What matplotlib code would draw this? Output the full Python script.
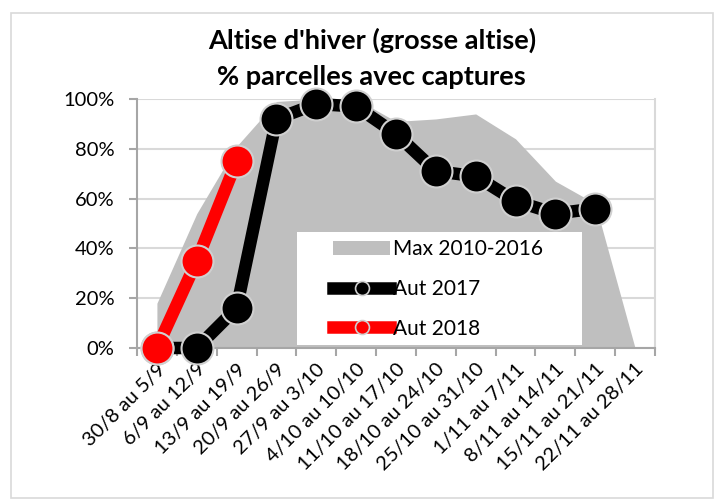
import matplotlib
matplotlib.use("Agg")
import matplotlib.pyplot as plt
from matplotlib.patches import Patch, Rectangle
from matplotlib.lines import Line2D
from matplotlib.ticker import PercentFormatter

plt.rcParams['font.family'] = ['Lato', 'DejaVu Sans']

categories = ["30/8 au 5/9", "6/9 au 12/9", "13/9 au 19/9", "20/9 au 26/9",
              "27/9 au 3/10", "4/10 au 10/10", "11/10 au 17/10", "18/10 au 24/10",
              "25/10 au 31/10", "1/11 au 7/11", "8/11 au 14/11", "15/11 au 21/11",
              "22/11 au 28/11"]
max_2010_2016 = [18, 54, 81, 99, 100, 100, 91, 92, 94, 84, 67, 58, 0]
aut_2017 = [0, 0, 16, 92, 98, 97, 86, 71, 69, 59, 54, 56, None]
aut_2018 = [0, 35, 75, None, None, None, None, None, None, None, None, None, None]
title_lines = ["Altise d'hiver (grosse altise)", "% parcelles avec captures"]
legend_labels = ["Max 2010-2016", "Aut 2017", "Aut 2018"]

fig = plt.figure(figsize=(7.22, 5.01), dpi=100)
ax = fig.add_axes([137 / 722, 1 - 348 / 501, 518 / 722, 249 / 501])

x = list(range(len(categories)))
ax.fill_between(x, max_2010_2016, 0, color="#bfbfbf", lw=0, zorder=1)

def xy(vals):
    pts = [(i, v) for i, v in zip(x, vals) if v is not None]
    return [p[0] for p in pts], [p[1] for p in pts]

mk = dict(marker='o', markersize=23, markeredgecolor="#d0d0d0", markeredgewidth=1.5)
bx, by = xy(aut_2017)
ax.plot(bx, by, color="black", lw=9, zorder=3, clip_on=False, **mk)
rx, ry = xy(aut_2018)
ax.plot(rx, ry, color="red", lw=9, zorder=4, clip_on=False, **mk)

ax.set_xlim(-0.5, len(categories) - 0.5)
ax.set_ylim(0, 100)
ax.set_yticks([0, 20, 40, 60, 80, 100])
ax.yaxis.set_major_formatter(PercentFormatter(decimals=0))
ax.set_xticks([i - 0.5 for i in range(len(categories) + 1)], minor=False)
ax.set_xticklabels([])
ax.set_xticks(x, minor=True)
ax.set_xticklabels(categories, minor=True, rotation=45, ha='right',
                   rotation_mode='anchor', fontsize=14.5)
ax.tick_params(axis='x', which='minor', length=0, pad=9)
ax.tick_params(axis='x', which='major', length=5.8, color="#a6a6a6", width=1.5)
ax.tick_params(axis='y', length=5.8, color="#a6a6a6", width=1.5, labelsize=14.5, pad=10.5)
ax.grid(axis='y', color="#d9d9d9", lw=1.5, zorder=0)
ax.set_axisbelow(True)
ax.spines['top'].set_visible(False)
ax.spines['right'].set_color("#d9d9d9")
ax.spines['right'].set_linewidth(1.5)
for s in ['left', 'bottom']:
    ax.spines[s].set_color("#a6a6a6")
    ax.spines[s].set_linewidth(1.5)

fig.text(0.515, 1 - 40 / 501, title_lines[0], ha='center', va='center',
         fontsize=19.5, fontweight='bold')
fig.text(0.515, 1 - 77 / 501, title_lines[1], ha='center', va='center',
         fontsize=19.5, fontweight='bold')

# white legend box
ax.add_patch(Rectangle((0.309, 0.012), 0.55, 0.454, transform=ax.transAxes,
                       facecolor='white', edgecolor='none', zorder=5))

handles = [Patch(facecolor="#bfbfbf", edgecolor='none'),
           Line2D([0], [0], color='black', lw=9, marker='o', markersize=10,
                  markeredgecolor="#d0d0d0", markeredgewidth=1.2),
           Line2D([0], [0], color='red', lw=9, marker='o', markersize=10,
                  markeredgecolor="#d0d0d0", markeredgewidth=1.2)]
leg = ax.legend(handles, legend_labels,
                loc='upper left', bbox_to_anchor=((333 - 137) / 518, (348 - 239) / 249),
                frameon=False, fontsize=15, handlelength=2.75, handleheight=0.65,
                labelspacing=0.95, handletextpad=0.15, borderpad=0, borderaxespad=0)
leg.set_zorder(6)

border = Rectangle((0.015, 0.005), 0.972, 0.97, transform=fig.transFigure,
                   fill=False, edgecolor="#d9d9d9", lw=1.2)
fig.patches.append(border)

fig.savefig("out.png", dpi=100)
